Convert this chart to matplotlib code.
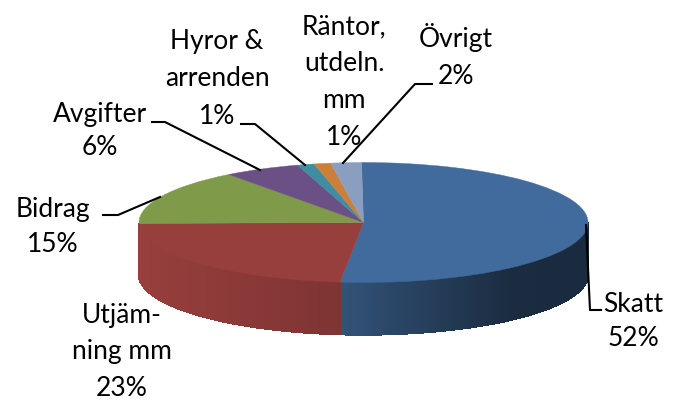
import numpy as np
import matplotlib
matplotlib.use("Agg")
import matplotlib.pyplot as plt

plt.rcParams['font.family'] = ['Lato', 'DejaVu Sans']

# shares, printed percentages are kept separately
names = ["Skatt", "Utjämning mm", "Bidrag", "Avgifter", "Hyror & arrenden", "Räntor, utdeln. mm", "Övrigt"]
shares = [51.8, 23.1, 15.0, 5.5, 1.2, 1.2, 2.2]
colors = ["#416B9C", "#973F3D", "#7F9A48", "#6A5085", "#3E8DA3", "#CC7F38", "#8A9EBF"]
label_texts = ["Skatt\n52%", "Utjäm-\nning mm\n23%", "Bidrag\n15%", "Avgifter\n6%",
               "Hyror &\narrenden\n1%", "Räntor,\nutdeln.\nmm\n1%", "Övrigt\n2%"]
label_x = [633, 122, 53, 100, 217, 344, 456]
label_y = [321, 352, 227, 131, 79, 82, 56]
label_spacing = [1.45, 1.55, 1.55, 1.4, 1.6, 1.6, 1.65]
leaders = [
    [(586, 225), (590, 310), (601, 310)],
    None,
    [(160, 197), (118, 215), (103, 215)],
    [(260, 170), (165, 122), (152, 122)],
    [(305, 165), (255, 124), (241, 124)],
    None,
    [(343, 163), (415, 84), (432, 84)],
]

W, H = 676, 401
cx, cy, rx, ry = 363.5, 222.5, 224.5, 60.0
depth = 52.0 / ry
start_deg = -0.5  # clockwise from the top


def wall_shade(i, x):
    # side of the pie gets darker towards the right, red and blue have their own ramp
    if i == 1:
        return np.interp(x, [-1, -0.1], [1.0, 0.83])
    return np.interp(x, [-0.12, 0.65, 1], [0.78, 0.41, 0.4])


fig = plt.figure(figsize=(W / 100, H / 100), dpi=100)
ax = fig.add_axes([0, 0, 1, 1])

wedges, _ = ax.pie(shares, colors=colors, startangle=90 - start_deg, counterclock=False,
                   wedgeprops={'linewidth': 0.3, 'zorder': 3})
for w, c in zip(wedges, colors):
    w.set_edgecolor(c)
ax.set_aspect('auto')
ax.set_xlim(-cx / rx, (W - cx) / rx)
ax.set_ylim((cy - H) / ry, cy / ry)

# side wall, only the front half of the ellipse shows
edges = start_deg + np.cumsum([0] + shares) * 3.6
for i, c in enumerate(colors):
    a0 = max(edges[i], 90)
    a1 = min(edges[i + 1], 270)
    if a1 - a0 < 1:
        continue
    steps = np.arange(a0, a1 + 1, 1.0)
    steps[-1] = a1
    base = np.array(matplotlib.colors.to_rgb(c))
    for t0, t1 in zip(steps[:-1], steps[1:]):
        r0, r1 = np.radians(t0), np.radians(t1)
        xs = [np.sin(r0), np.sin(r1), np.sin(r1), np.sin(r0)]
        ys = [np.cos(r0), np.cos(r1), np.cos(r1) - depth, np.cos(r0) - depth]
        col = base * wall_shade(i, np.sin((r0 + r1) / 2))
        # aliased so neighbouring strips leave no seams
        ax.fill(xs, ys, color=col, linewidth=1.0, antialiased=False, zorder=2)

# labels and leader lines work in pixels
over = fig.add_axes([0, 0, 1, 1])
over.set_xlim(0, W)
over.set_ylim(H, 0)
over.axis('off')
over.patch.set_alpha(0)

for txt, x, y, sp, line in zip(label_texts, label_x, label_y, label_spacing, leaders):
    over.text(x, y, txt, ha='center', va='center', fontsize=19, color='black', linespacing=sp)
    if line:
        over.plot([p[0] for p in line], [p[1] for p in line], color='black', lw=1.5)

fig.savefig("out.png", dpi=100)
